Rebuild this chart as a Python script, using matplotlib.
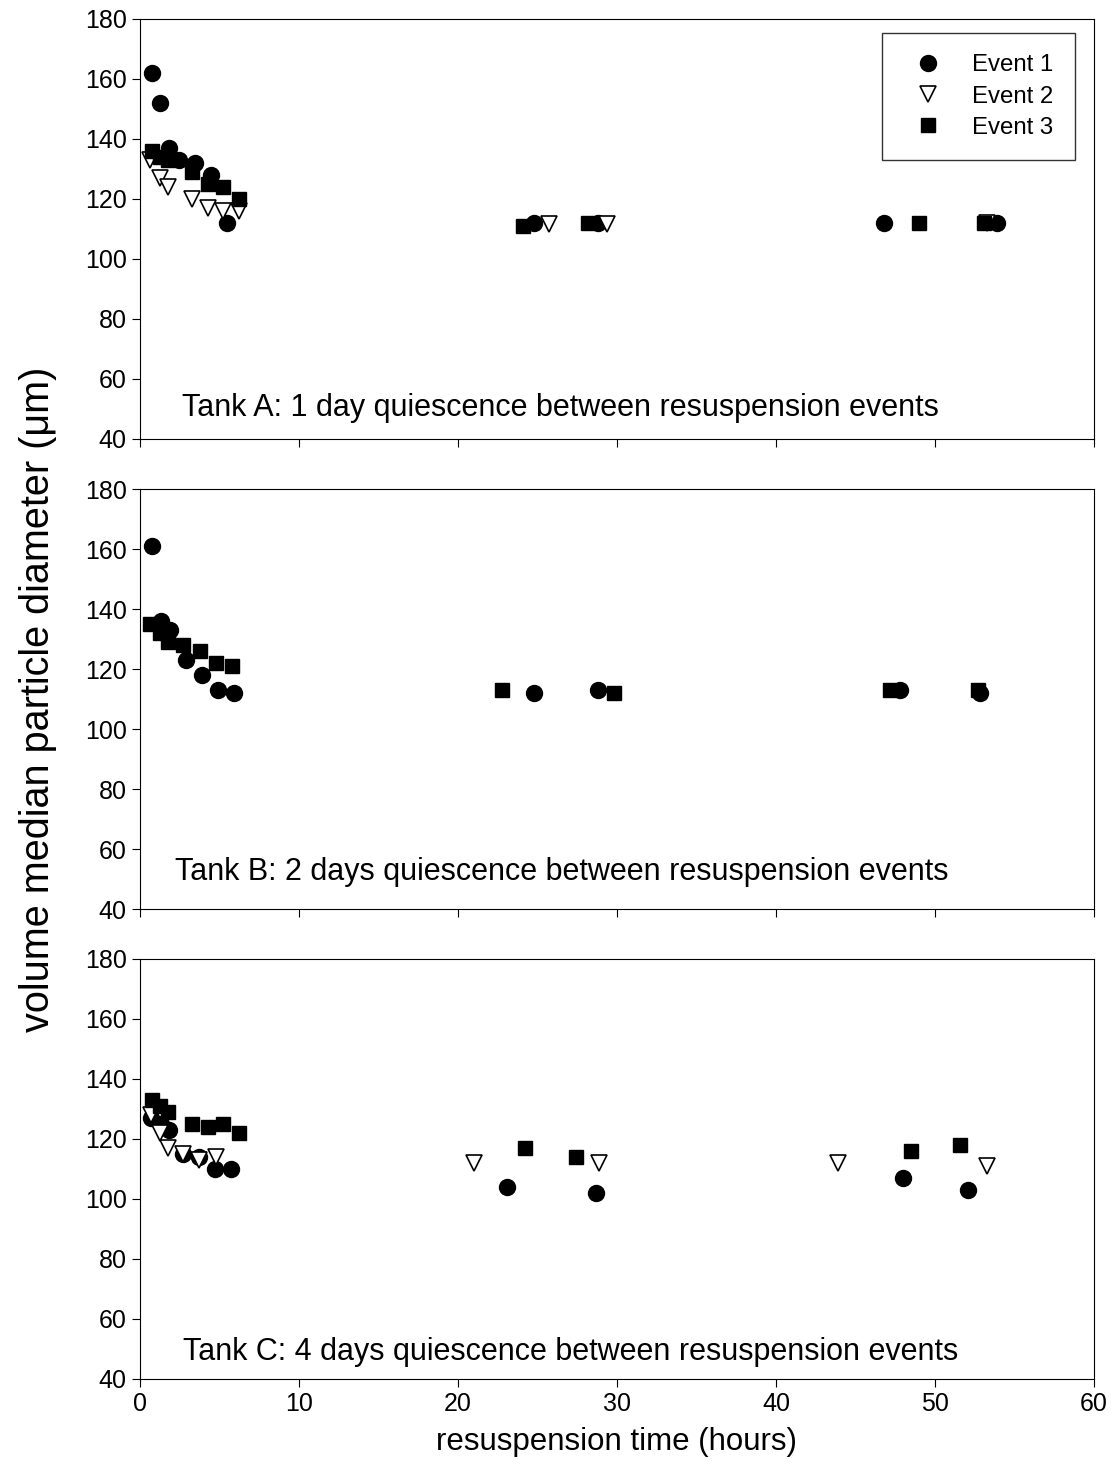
import matplotlib
matplotlib.use("Agg")
import matplotlib.pyplot as plt

plt.rcParams["font.family"] = ["Liberation Sans", "DejaVu Sans"]

panel_titles = [
    "Tank A: 1 day quiescence between resuspension events",
    "Tank B: 2 days quiescence between resuspension events",
    "Tank C: 4 days quiescence between resuspension events",
]
event_labels = ["Event 1", "Event 2", "Event 3"]

# Tank A
a_t1 = [0.78, 1.26, 1.82, 2.45, 3.46, 4.45, 5.45, 24.8, 28.8, 46.8, 53.9]
a_d1 = [162, 152, 137, 133, 132, 128, 112, 112, 112, 112, 112]
a_t2 = [0.63, 1.26, 1.76, 3.27, 4.28, 5.2, 6.2, 25.7, 29.4, 53.3]
a_d2 = [133, 127, 124, 120, 117, 116, 116, 111.5, 111.5, 112]
a_t3 = [0.75, 1.26, 1.76, 3.27, 4.28, 5.2, 6.2, 24.1, 28.2, 49.0, 53.1]
a_d3 = [136, 134, 133, 129, 125, 124, 120, 111, 112, 112, 112]

# Tank B (no Event 2 data)
b_t1 = [0.78, 1.3, 1.9, 2.9, 3.9, 4.9, 5.9, 24.8, 28.8, 47.8, 52.8]
b_d1 = [161, 136, 133, 123, 118, 113, 112, 112, 113, 113, 112]
b_t2 = []
b_d2 = []
b_t3 = [0.63, 1.26, 1.76, 2.7, 3.77, 4.78, 5.79, 22.8, 29.8, 47.2, 52.7]
b_d3 = [135, 132, 129, 128, 126, 122, 121, 113, 112, 113, 113]

# Tank C
c_t1 = [0.7, 1.3, 1.8, 2.7, 3.7, 4.7, 5.7, 23.1, 28.7, 48.0, 52.1]
c_d1 = [127, 125, 123, 115, 114, 110, 110, 104, 102, 107, 103]
c_t2 = [0.7, 1.26, 1.76, 2.7, 3.7, 4.78, 21.0, 28.9, 43.9, 53.3]
c_d2 = [128, 122, 117, 115, 113, 114, 112, 112, 112, 111]
c_t3 = [0.75, 1.26, 1.76, 3.27, 4.28, 5.2, 6.2, 24.2, 27.4, 48.5, 51.6]
c_d3 = [133, 131, 129, 125, 124, 125, 122, 117, 114, 116, 118]

panels = [
    [(a_t1, a_d1), (a_t2, a_d2), (a_t3, a_d3)],
    [(b_t1, b_d1), (b_t2, b_d2), (b_t3, b_d3)],
    [(c_t1, c_d1), (c_t2, c_d2), (c_t3, c_d3)],
]

fig = plt.figure(figsize=(11.16, 14.81), dpi=100)
left, width = 0.1254, 0.8549
bottoms = [0.7036, 0.3862, 0.0689]
height = 0.2836
text_pos = [(0.044, 0.074), (0.037, 0.088), (0.045, 0.064)]

styles = [
    dict(marker="o", color="black", markersize=11.5, linestyle="none"),
    dict(marker="v", markerfacecolor="white", markeredgecolor="black",
         markeredgewidth=1.2, markersize=11, linestyle="none"),
    dict(marker="s", color="black", markersize=10, linestyle="none"),
]

axes = []
for i, (b, data) in enumerate(zip(bottoms, panels)):
    ax = fig.add_axes([left, b, width, height])
    handles = []
    for (t, d), st, lab in zip(data, styles, event_labels):
        h, = ax.plot(t, d, label=lab, **st)
        handles.append(h)
    ax.set_xlim(0, 60)
    ax.set_ylim(40, 180)
    ax.set_xticks(range(0, 61, 10))
    ax.set_yticks(range(40, 181, 20))
    ax.tick_params(direction="out", length=6, labelsize=18)
    if i < 2:
        ax.tick_params(labelbottom=False)
    tx, ty = text_pos[i]
    ax.text(tx, ty, panel_titles[i], transform=ax.transAxes,
            fontsize=22, va="center", ha="left")
    axes.append(ax)
    if i == 0:
        ax.legend(handles=handles, loc="upper right", fontsize=17.3,
                  frameon=True, fancybox=False, edgecolor="black",
                  borderpad=0.9, labelspacing=0.38, handletextpad=0.85,
                  borderaxespad=0.0, bbox_to_anchor=(0.98, 0.967))

axes[-1].set_xlabel("resuspension time (hours)", fontsize=22.5, labelpad=8)
fig.text(0.034, 0.528, "volume median particle diameter (\u03bcm)", rotation=90,
         fontsize=28.5, va="center", ha="center")

fig.savefig("out.png", dpi=100)
